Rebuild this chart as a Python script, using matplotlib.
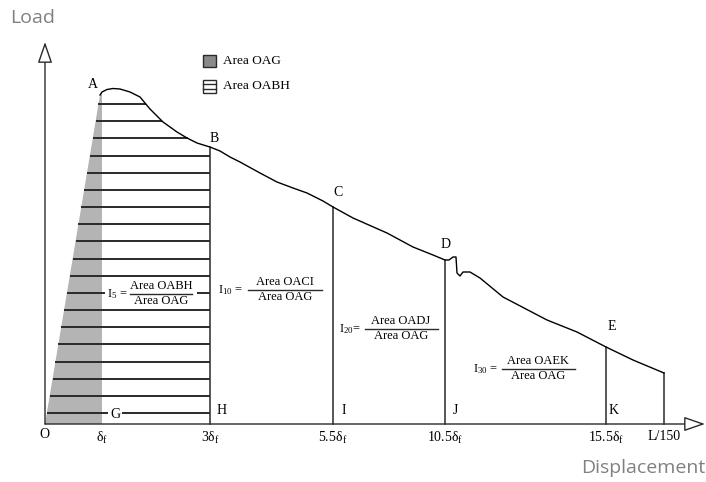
import matplotlib.pyplot as plt
from matplotlib.patches import Polygon, Rectangle
import numpy as np

plt.rcParams['font.family'] = 'Liberation Serif'
plt.rcParams['mathtext.fontset'] = 'custom'
plt.rcParams['mathtext.rm'] = 'Liberation Serif'
plt.rcParams['mathtext.it'] = 'Liberation Serif:italic'

# Schematic load-displacement curve from A onward (arbitrary units, origin at O)
displacement = [55, 57, 62, 68, 75, 85, 95, 100, 105, 110, 118, 125, 132, 142,
                152, 160, 165, 175, 185, 195, 215, 232, 248, 262, 278, 288,
                308, 342, 368, 388, 400, 404, 408, 411, 412, 415, 418, 425,
                435, 458, 502, 532, 561, 588, 619]
load = [329, 332, 334.5, 335.5, 335, 332, 327, 321, 315, 310, 302, 297, 292, 286,
        281, 278.5, 277, 273, 267, 262, 251, 242, 236, 231, 223, 217,
        206, 191, 177, 169, 164, 164, 167, 167, 151, 148, 152, 152,
        146, 127, 104, 92, 77, 64, 51]

# Displacement checkpoints on the axis
tick_pos = [57, 165, 288, 400, 561, 619]
tick_labels = [r'$\mathrm{\delta_f}$', r'$\mathrm{3\delta_f}$', r'$\mathrm{5.5\delta_f}$',
               r'$\mathrm{10.5\delta_f}$', r'$\mathrm{15.5\delta_f}$', 'L/150']

# Named points on the curve and their label offsets (pixels)
point_names = ['A', 'B', 'C', 'D', 'E']
point_x = [55, 165, 288, 400, 561]
label_offsets = [(-7, 10), (4, 8), (5, 14), (1, 15), (6, 20)]

# Foot of each vertical line
foot_names = ['H', 'I', 'J', 'K']
foot_offsets = [12, 11, 10, 8]

INK = '#2a2a2a'
GREY_TXT = '#808080'

fig = plt.figure(figsize=(7.06, 4.82), dpi=100)
ax = fig.add_axes([0, 0, 1, 1])
ax.set_xlim(-45, 661)
ax.set_ylim(-58, 424)
ax.axis('off')

disp = np.array(displacement, dtype=float)
ld = np.array(load, dtype=float)

# Area OAG (elastic part)
peak = ld.argmax()
ax.add_patch(Polygon([(0, 0), (disp[0], ld[0]), (tick_pos[0], np.interp(tick_pos[0], disp, ld)),
                      (tick_pos[0], 0)],
                     closed=True, fc='#b4b4b4', ec='none', zorder=1))

# Horizontal hatching of area OABH
desc_x = disp[peak:][disp[peak:] <= tick_pos[1]]
desc_y = ld[peak:][disp[peak:] <= tick_pos[1]]
for y in np.linspace(11, 320, 19):
    x0 = disp[0] * y / ld[0]
    if y < desc_y.min():
        x1 = tick_pos[1]
    else:
        x1 = np.interp(y, desc_y[::-1], desc_x[::-1])
    ax.plot([x0, x1], [y, y], color=INK, lw=1.4, zorder=2, solid_capstyle='butt')

# Post-peak curve
ax.plot(displacement, load, color='black', lw=1.0, zorder=4)

# Verticals at the checkpoints
for xp in tick_pos[1:]:
    ax.plot([xp, xp], [0, np.interp(xp, disp, ld)], color=INK, lw=1.1, zorder=3)

# Axes with open arrow heads
arrow = dict(arrowstyle='-|>,head_length=13,head_width=4.5', mutation_scale=1,
             fc='white', ec=INK, lw=1.0, shrinkA=0, shrinkB=0)
ax.annotate('', xy=(0, 382), xytext=(0, 0), arrowprops=arrow, zorder=5)
ax.annotate('', xy=(660, 0), xytext=(0, 0), arrowprops=arrow, zorder=5)

# Tick labels
ax.text(-1, -11, 'O', fontsize=10, ha='center', va='center')
for xp, lab in zip(tick_pos, tick_labels):
    ax.text(xp, -6, lab, fontsize=10, ha='center', va='top')

# Point labels
for name, xp, (dx, dy) in zip(point_names, point_x, label_offsets):
    yp = np.interp(xp, disp, ld)
    ax.annotate(name, xy=(xp, yp), xytext=(dx, dy), textcoords='offset pixels',
                fontsize=10, ha='center', va='center')
for name, xp, dx in zip(foot_names, tick_pos[1:5], foot_offsets):
    ax.text(xp + dx, 13, name, fontsize=10, ha='center', va='center')
ax.text(70, 10, 'G', fontsize=10, ha='center', va='center',
        bbox=dict(fc='white', ec='none', pad=1.5), zorder=6)


# Toughness index formulas
def fraction(x, y, lhs, num, den, x0, x1, lhs_x, mask=False):
    if mask:
        ax.add_patch(Rectangle((lhs_x - 12, y - 14), x1 - lhs_x + 17, 27,
                               fc='white', ec='none', zorder=5))
    ax.text(lhs_x, y, lhs, fontsize=9, ha='center', va='center', zorder=6)
    ax.text(x, y + 8, num, fontsize=9, ha='center', va='center', zorder=6)
    ax.text(x, y - 7, den, fontsize=9, ha='center', va='center', zorder=6)
    ax.plot([x0, x1], [y, y], color=INK, lw=1.0, zorder=6)


fraction(116, 130, r'$\mathrm{I_5}$ =', 'Area OABH', 'Area OAG', 85, 147, 72, mask=True)
fraction(240, 134, r'$\mathrm{I_{10}}$ =', 'Area OACI', 'Area OAG', 203, 277, 185)
fraction(356, 95, r'$\mathrm{I_{20}}$=', 'Area OADJ', 'Area OAG', 320, 393, 305)
fraction(493, 55, r'$\mathrm{I_{30}}$ =', 'Area OAEK', 'Area OAG', 457, 530, 440)

# Legend
ax.add_patch(Rectangle((158, 357), 13, 12, fc='#8a8a8a', ec=INK, lw=1.0, zorder=6))
ax.add_patch(Rectangle((158, 331), 13, 13, fc='white', ec=INK, lw=1.0, zorder=6))
for yl in (335.3, 339.7):
    ax.plot([158, 171], [yl, yl], color=INK, lw=1.0, zorder=7)
ax.text(178, 363, 'Area OAG', fontsize=9.5, ha='left', va='center')
ax.text(178, 338, 'Area OABH', fontsize=9.5, ha='left', va='center')

# Axis titles
fig.text(10 / 706, 1 - 18 / 482, 'Load', fontsize=14, color=GREY_TXT,
         family='Open Sans', ha='left', va='center')
fig.text(705 / 706, 1 - 468 / 482, 'Displacement', fontsize=14, color=GREY_TXT,
         family='Open Sans', ha='right', va='center')

fig.savefig('out.png', dpi=100)
